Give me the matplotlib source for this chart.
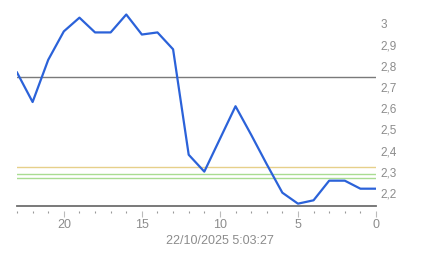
import matplotlib.pyplot as plt
from matplotlib.ticker import FuncFormatter, MultipleLocator

# values (x counts down from 23 to 0)
x_vals = list(range(23, -1, -1))
y_vals = [2.77, 2.63, 2.83, 2.965, 3.03, 2.96, 2.96, 3.045, 2.95, 2.96, 2.88,
          2.38, 2.30, 2.455, 2.61, 2.475, 2.335, 2.20, 2.148, 2.164, 2.257,
          2.257, 2.219, 2.219]

ref_level = 2.75
warn_level = 2.32
ok_levels = [2.29, 2.27]
x_label = "22/10/2025 5:03:27"

plt.rcParams["font.family"] = ["Liberation Sans", "DejaVu Sans"]

fig = plt.figure(figsize=(4.43, 2.58), dpi=100)
ax = fig.add_axes([17 / 443, 51.7 / 258, 359 / 443, 203.4 / 258])

ax.axhline(ref_level, color="#7a7a7a", lw=1.0, zorder=1)
ax.axhline(warn_level, color="#e6d08a", lw=1.0, zorder=1)
for lvl in ok_levels:
    ax.axhline(lvl, color="#a9dc92", lw=1.0, zorder=1)

ax.plot(x_vals, y_vals, color="#2b62d9", lw=1.6, zorder=3)

ax.set_xlim(23, 0)
ax.set_ylim(2.1355, 3.1)
ax.axhline(2.1355, color="#6e6e6e", lw=1.3, zorder=2, clip_on=False)

for side in ["top", "left", "right"]:
    ax.spines[side].set_visible(False)
ax.spines["bottom"].set_position(("outward", 3.5))
ax.spines["bottom"].set_visible(False)

ax.xaxis.set_major_locator(MultipleLocator(5))
ax.xaxis.set_minor_locator(MultipleLocator(1))
ax.tick_params(axis="x", which="major", length=4, width=0.8, color="#bbbbbb",
               labelsize=9, labelcolor="#8c8c8c", pad=2)
ax.tick_params(axis="x", which="minor", length=1.5, width=0.8, color="#999999")

ax.yaxis.tick_right()
ax.set_yticks([2.2, 2.3, 2.4, 2.5, 2.6, 2.7, 2.8, 2.9, 3.0])
ax.yaxis.set_major_formatter(
    FuncFormatter(lambda v, _: f"{v:g}".replace(".", ",")))
ax.tick_params(axis="y", length=0, labelsize=8.5, labelcolor="#8c8c8c", pad=3)

ax.set_xlabel(x_label, fontsize=9, color="#8c8c8c", labelpad=4)
ax.xaxis.set_label_coords((219.5 - 17) / 359, -0.14)

fig.savefig("out.png", dpi=100)
